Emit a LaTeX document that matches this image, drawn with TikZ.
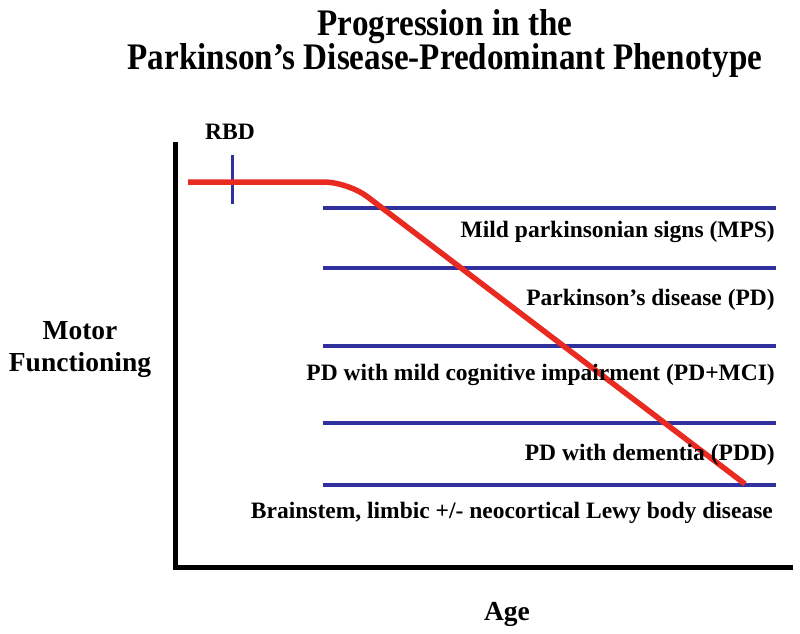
\documentclass[tikz,border=0pt]{standalone}
\usepackage{fontspec}
\setmainfont{Liberation Serif}
\definecolor{stageblue}{RGB}{48,48,158}
\definecolor{curvered}{RGB}{232,42,32}
\begin{document}
\begin{tikzpicture}[x=1pt,y=-1pt,
  axis/.style={line width=5pt,black},
  stageline/.style={line width=4pt,stageblue},
  curve/.style={line width=5.5pt,curvered},
  stagelabel/.style={inner sep=0pt,anchor=base east,font=\fontsize{23.5}{28}\selectfont\bfseries},
  axislabel/.style={inner sep=0pt,font=\fontsize{27.5}{32}\selectfont\bfseries},
  titlelabel/.style={inner sep=0pt,anchor=base,font=\fontsize{37.5}{40}\selectfont\bfseries}]
\useasboundingbox (0,0) rectangle (800,633);
\fill[white] (0,0) rectangle (800,633);
% title
\node[titlelabel] (t1) at (445,35) {\scalebox{0.883}[1]{Progression in the}};
\node[titlelabel] (t2) at (445,69) {\scalebox{0.883}[1]{Parkinson’s Disease-Predominant Phenotype}};
% axes
\coordinate (ytop) at (175,142);
\coordinate (origin) at (175,567);
\coordinate (xend) at (793,567);
\draw[axis] (ytop) -- (origin) -- (xend);
% stage lines
\foreach \n/\y in {a/208,b/268,c/346,d/423,e/485}{
  \coordinate (\n l) at (323,\y);
  \coordinate (\n r) at (776,\y);
  \draw[stageline] (\n l) -- (\n r);
}
% RBD
\coordinate (rbdtop) at (232,155);
\coordinate (rbdbot) at (232,204);
\draw[line width=3pt,stageblue] (rbdtop) -- (rbdbot);
\node[inner sep=0pt,anchor=base,font=\fontsize{23.5}{28}\selectfont\bfseries] (rbd) at (230,139) {RBD};
% curve
\coordinate (c0) at (188,182);
\coordinate (c1) at (348,182);
\coordinate (c2) at (745,484);
\draw[curve,rounded corners=24pt] (c0) -- (c1) -- (c2);
% stage labels
\node[stagelabel] (mps) at (775,237) {Mild parkinsonian signs (MPS)};
\node[stagelabel] (pd) at (775,305) {Parkinson’s disease (PD)};
\node[stagelabel] (mci) at (775,380) {PD with mild cognitive impairment (PD+MCI)};
\node[stagelabel] (pdd) at (775,460) {PD with dementia (PDD)};
\node[stagelabel] (lewy) at (773,518) {Brainstem, limbic +/- neocortical Lewy body disease};
% axis labels
\node[axislabel,anchor=base] (motor) at (80,339) {Motor};
\node[axislabel,anchor=base] (func) at (80,371) {Functioning};
\node[axislabel,anchor=base] (age) at (507,620) {Age};
\end{tikzpicture}
\end{document}
